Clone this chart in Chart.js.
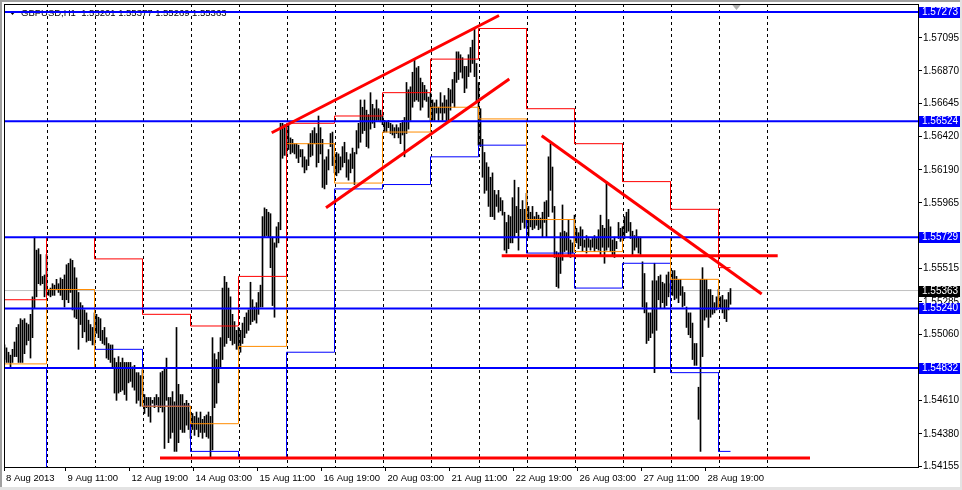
<!DOCTYPE html>
<html>
<head>
<meta charset="utf-8">
<script src="https://cdn.jsdelivr.net/npm/chart.js@4.4.0/dist/chart.umd.min.js"></script>
<style>
  html, body { margin: 0; padding: 0; background: #fff; }
  canvas { display: block; }
</style>
</head>
<body>
<canvas id="chart" width="962" height="490"></canvas>
<script>
const symbolName = 'GBPUSD,H1';
const lastQuote = [1.55201, 1.55377, 1.55269, 1.55363];

// H1 bars, one row per trading day (8 Aug .. 29 Aug 2013)
const barHigh = [
  1.5499,1.5497,1.5494,1.5492,1.5496,1.5501,1.5511,1.5513,1.5517,1.5516,1.5517,1.5514,1.5513,1.5520,1.5532,1.5573,1.5564,1.5565,1.5561,1.5546,1.5547,1.5561,
  1.5537,1.5538,1.5541,1.5540,1.5544,1.5541,1.5545,1.5544,1.5547,1.5554,1.5555,1.5558,1.5557,1.5552,1.5545,1.5535,1.5528,1.5526,1.5523,1.5521,1.5516,1.5513,1.5511,1.5521,
  1.5520,1.5518,1.5517,1.5509,1.5511,1.5504,1.5500,1.5499,1.5499,1.5490,1.5487,1.5491,1.5487,1.5490,1.5487,1.5487,1.5487,1.5487,1.5484,1.5485,1.5480,1.5480,1.5478,1.5482,
  1.5465,1.5463,1.5463,1.5463,1.5461,1.5463,1.5465,1.5463,1.5480,1.5481,1.5483,1.5490,1.5463,1.5463,1.5467,1.5460,1.5511,1.5472,1.5465,1.5465,1.5459,1.5461,1.5459,1.5453,
  1.5452,1.5450,1.5453,1.5449,1.5453,1.5448,1.5450,1.5451,1.5453,1.5450,1.5504,1.5493,1.5489,1.5494,1.5504,1.5538,1.5546,1.5542,1.5538,1.5532,1.5520,1.5515,1.5509,1.5511,
  1.5509,1.5514,1.5518,1.5521,1.5523,1.5542,1.5530,1.5525,1.5528,1.5535,1.5540,1.5587,1.5593,1.5592,1.5590,1.5589,1.5573,1.5569,1.5580,1.5583,1.5651,1.5651,1.5650,1.5648,
  1.5651,1.5641,1.5640,1.5637,1.5637,1.5636,1.5633,1.5633,1.5628,1.5626,1.5637,1.5644,1.5646,1.5648,1.5644,1.5656,1.5648,1.5640,1.5626,1.5628,1.5633,1.5644,1.5645,1.5628,
  1.5631,1.5630,1.5628,1.5635,1.5638,1.5631,1.5626,1.5630,1.5634,1.5631,1.5646,1.5651,1.5667,1.5662,1.5667,1.5660,1.5657,1.5672,1.5664,1.5661,1.5667,1.5661,1.5660,1.5657,
  1.5653,1.5652,1.5653,1.5651,1.5650,1.5648,1.5650,1.5648,1.5651,1.5653,1.5655,1.5679,1.5674,1.5676,1.5686,1.5695,1.5689,1.5690,1.5682,1.5679,1.5677,1.5674,1.5669,1.5672,
  1.5667,1.5665,1.5667,1.5662,1.5672,1.5665,1.5670,1.5667,1.5675,1.5674,1.5681,1.5686,1.5700,1.5700,1.5698,1.5696,1.5690,1.5690,1.5698,1.5703,1.5708,1.5716,1.5692,1.5679,
  1.5661,1.5640,1.5631,1.5624,1.5621,1.5614,1.5617,1.5605,1.5602,1.5605,1.5600,1.5598,1.5590,1.5583,1.5588,1.5587,1.5600,1.5612,1.5594,1.5607,1.5592,1.5598,1.5592,1.5603,
  1.5594,1.5590,1.5594,1.5587,1.5590,1.5588,1.5586,1.5590,1.5597,1.5598,1.5628,1.5637,1.5621,1.5594,1.5563,1.5562,1.5576,1.5595,1.5577,1.5576,1.5585,1.5571,1.5569,1.5588,
  1.5579,1.5576,1.5580,1.5578,1.5571,1.5574,1.5572,1.5571,1.5572,1.5574,1.5572,1.5578,1.5588,1.5581,1.5579,1.5611,1.5585,1.5580,1.5571,1.5573,1.5570,1.5583,1.5579,1.5580,
  1.5587,1.5590,1.5592,1.5583,1.5577,1.5574,1.5578,1.5573,1.5573,1.5556,1.5548,1.5528,1.5521,1.5521,1.5543,1.5555,1.5543,1.5546,1.5547,1.5542,1.5541,1.5547,1.5549,1.5541,
  1.5550,1.5550,1.5546,1.5544,1.5544,1.5539,1.5535,1.5525,1.5521,1.5521,1.5514,1.5500,1.5500,1.5470,1.5544,1.5552,1.5544,1.5544,1.5537,1.5537,1.5533,1.5528,1.5532,1.5537,
  1.5532,1.5533,1.5530,1.5530,1.5535,1.55377
];
const barLow = [
  1.5489,1.5487,1.5487,1.5484,1.5487,1.5491,1.5491,1.5487,1.5487,1.5487,1.5493,1.5499,1.5502,1.5490,1.5504,1.5524,1.5532,1.5541,1.5540,1.5541,1.5532,1.5537,
  1.5533,1.5532,1.5533,1.5533,1.5537,1.5535,1.5533,1.5530,1.5525,1.5530,1.5528,1.5535,1.5523,1.5518,1.5517,1.5496,1.5513,1.5504,1.5508,1.5501,1.5502,1.5502,1.5499,1.5499,
  1.5507,1.5504,1.5502,1.5500,1.5499,1.5490,1.5489,1.5487,1.5484,1.5466,1.5461,1.5466,1.5467,1.5468,1.5465,1.5461,1.5473,1.5474,1.5470,1.5468,1.5459,1.5461,1.5457,1.5465,
  1.5452,1.5456,1.5450,1.5446,1.5459,1.5456,1.5458,1.5453,1.5456,1.5453,1.5428,1.5461,1.5432,1.5435,1.5439,1.5426,1.5426,1.5432,1.5441,1.5439,1.5439,1.5444,1.5441,1.5435,
  1.5441,1.5437,1.5441,1.5436,1.5439,1.5435,1.5439,1.5436,1.5435,1.5421,1.5427,1.5456,1.5459,1.5473,1.5484,1.5489,1.5498,1.5500,1.5504,1.5502,1.5499,1.5500,1.5496,1.5496,
  1.5494,1.5500,1.5504,1.5507,1.5509,1.5513,1.5515,1.5516,1.5514,1.5520,1.5525,1.5525,1.5573,1.5574,1.5573,1.5552,1.5526,1.5518,1.5566,1.5569,1.5578,1.5627,1.5629,1.5629,
  1.5633,1.5630,1.5631,1.5630,1.5627,1.5624,1.5628,1.5621,1.5617,1.5619,1.5622,1.5628,1.5629,1.5637,1.5621,1.5624,1.5630,1.5607,1.5606,1.5609,1.5619,1.5635,1.5622,1.5617,
  1.5615,1.5617,1.5619,1.5621,1.5624,1.5614,1.5612,1.5617,1.5620,1.5609,1.5630,1.5634,1.5638,1.5644,1.5646,1.5635,1.5634,1.5647,1.5651,1.5648,1.5653,1.5653,1.5652,1.5650,
  1.5645,1.5645,1.5648,1.5644,1.5643,1.5641,1.5644,1.5641,1.5637,1.5643,1.5628,1.5644,1.5647,1.5653,1.5662,1.5666,1.5667,1.5666,1.5660,1.5662,1.5667,1.5666,1.5655,1.5653,
  1.5653,1.5653,1.5658,1.5653,1.5658,1.5653,1.5658,1.5653,1.5653,1.5660,1.5665,1.5662,1.5679,1.5681,1.5686,1.5682,1.5672,1.5675,1.5683,1.5686,1.5692,1.5683,1.5666,1.5636,
  1.5635,1.5614,1.5603,1.5605,1.5594,1.5587,1.5587,1.5585,1.5594,1.5590,1.5591,1.5588,1.5564,1.5562,1.5565,1.5569,1.5569,1.5573,1.5576,1.5564,1.5578,1.5583,1.5579,1.5580,
  1.5573,1.5580,1.5578,1.5579,1.5581,1.5578,1.5579,1.5573,1.5583,1.5573,1.5587,1.5605,1.5590,1.5559,1.5539,1.5538,1.5548,1.5557,1.5563,1.5564,1.5561,1.5559,1.5562,1.5569,
  1.5569,1.5565,1.5567,1.5563,1.5566,1.5562,1.5566,1.5564,1.5566,1.5563,1.5565,1.5564,1.5561,1.5566,1.5555,1.5564,1.5566,1.5563,1.5561,1.5559,1.5565,1.5572,1.5570,1.5571,
  1.5572,1.5576,1.5577,1.5572,1.5561,1.5564,1.5566,1.5562,1.5561,1.5525,1.5521,1.5500,1.5502,1.5504,1.5507,1.5480,1.5509,1.5530,1.5524,1.5528,1.5524,1.5526,1.5532,1.5535,
  1.5533,1.5530,1.5531,1.5528,1.5533,1.5525,1.5526,1.5511,1.5506,1.5504,1.5489,1.5485,1.5485,1.5448,1.5426,1.5491,1.5516,1.5518,1.5511,1.5518,1.5520,1.5521,1.5523,1.5525,
  1.5524,1.5521,1.5517,1.5515,1.5523,1.55269
];

// daily levels (step lines): first bar of each day and the level for that day
const dayStart = [0, 22, 46, 70, 94, 118, 142, 166, 190, 214, 238, 262, 286, 310, 334, 358];
const dayRed =    [1.5530, 1.55729, 1.5558, 1.5520, 1.5512, 1.5546, 1.5651, 1.5656, 1.5672, 1.5695, 1.5716, 1.5661, 1.5637, 1.5611, 1.5592, 1.5552];
const dayOrange = [1.5486, 1.5537, 1.54832, 1.5457, 1.5445, 1.5498, 1.5637, 1.5610, 1.5645, 1.5662, 1.5654, 1.5585, 1.5563, 1.55729, 1.5544, 1.5524];
const dayBlue =   [1.5400, 1.54832, 1.5496, 1.5457, 1.5426, 1.5421, 1.5494, 1.5606, 1.5609, 1.5628, 1.5636, 1.5562, 1.5538, 1.5555, 1.5480, 1.5426];

// horizontal levels and trend lines ([bar, price] pairs)
const levels = [1.57273, 1.56524, 1.55729, 1.55240, 1.54832];
const currentPrice = 1.55363;
const channelTop = [[133.6, 1.56445], [247.25, 1.57249]];
const channelBottom = [[160.75, 1.55931], [252.4, 1.56813]];
const downTrend = [[268.6, 1.56425], [378.6, 1.55339]];
const supportMid = [[248.6, 1.55602], [386.6, 1.55602]];
const supportLow = [[77.75, 1.54214], [402.75, 1.54214]];

// axes
const priceTicks = [1.57095, 1.56870, 1.56645, 1.56420, 1.56190, 1.55965, 1.55515, 1.55285, 1.55060, 1.54610, 1.54380, 1.54155];
const timeLabels = ['8 Aug 2013', '9 Aug 11:00', '12 Aug 19:00', '14 Aug 03:00', '15 Aug 11:00', '16 Aug 19:00',
  '20 Aug 03:00', '21 Aug 11:00', '22 Aug 19:00', '26 Aug 03:00', '27 Aug 11:00', '28 Aug 19:00'];
const timeLabelBars = [0, 31, 63, 95, 127, 159, 191, 223, 255, 287, 319, 351];
const separatorBars = [22, 46, 70, 94, 118, 142, 166, 190, 214, 238, 262, 286, 310, 334, 358, 382];
const shiftBar = 366;

const X_MIN = -0.25, X_MAX = 456.75;
const Y_MIN = 1.54153, Y_MAX = 1.57328;
const FONT = "'Liberation Sans', Arial, sans-serif";

Chart.defaults.font.family = FONT;
Chart.defaults.font.size = 10;
Chart.defaults.color = '#000';

function stepPoints(vals) {
  const pts = [];
  dayStart.forEach((s, d) => {
    const a = d === 0 ? X_MIN : s - 1;
    const b = d + 1 < dayStart.length ? dayStart[d + 1] - 1 : barHigh.length - 1;
    pts.push({ x: a, y: vals[d] }, { x: b, y: vals[d] });
  });
  return pts;
}

function lineSet(pts, color, width, order) {
  return {
    type: 'line', data: pts.map(p => ({ x: p[0], y: p[1] })),
    borderColor: color, borderWidth: width, pointRadius: 0, fill: false, tension: 0, order: order
  };
}

const datasets = [];
[channelTop, channelBottom, downTrend, supportMid, supportLow].forEach(t => datasets.push(lineSet(t, '#ff0000', 3, 0)));
levels.forEach(v => datasets.push(lineSet([[X_MIN, v], [X_MAX, v]], '#0000ff', 2, 1)));
datasets.push({ type: 'line', data: stepPoints(dayRed), borderColor: '#ff0000', borderWidth: 1, pointRadius: 0, tension: 0, order: 2 });
datasets.push({ type: 'line', data: stepPoints(dayOrange), borderColor: '#ff8c00', borderWidth: 1, pointRadius: 0, tension: 0, order: 2 });
datasets.push({ type: 'line', data: stepPoints(dayBlue), borderColor: '#0000ff', borderWidth: 1, pointRadius: 0, tension: 0, order: 2 });
datasets.push({
  type: 'bar', data: barHigh.map((h, i) => ({ x: i, y: [barLow[i], h] })),
  backgroundColor: '#000', borderWidth: 0, barThickness: 1, order: 3
});
datasets.push(lineSet([[X_MIN, currentPrice], [X_MAX, currentPrice]], '#c0c0c0', 1, 4));

const mtFrame = {
  id: 'mtFrame',
  beforeDraw(chart) {
    const c = chart.ctx;
    c.save();
    c.fillStyle = '#fff';
    c.fillRect(0, 0, chart.width, chart.height);
    c.fillStyle = '#a0a0a0';
    c.fillRect(0, 0, chart.width, 2);
    c.fillRect(0, 0, 2, chart.height);
    c.fillStyle = '#e3e3e3';
    c.fillRect(0, chart.height - 3, chart.width, 3);
    c.fillRect(chart.width - 2, 0, 2, chart.height);
    c.restore();
  },
  beforeDatasetsDraw(chart) {
    const c = chart.ctx;
    const xs = chart.scales.x;
    c.save();
    c.fillStyle = '#000';
    c.beginPath();
    c.moveTo(9, 11); c.lineTo(16, 11); c.lineTo(12.5, 15); c.closePath();
    c.fill();
    c.font = '9.5px ' + FONT;
    c.textBaseline = 'alphabetic';
    c.fillText(symbolName + '  ' + lastQuote.map(v => v.toFixed(5)).join(' '), 21, 16);
    const sx = xs.getPixelForValue(shiftBar);
    c.fillStyle = '#b0b0b0';
    c.beginPath();
    c.moveTo(sx - 5, 4); c.lineTo(sx + 5, 4); c.lineTo(sx, 10); c.closePath();
    c.fill();
    c.restore();
  },
  afterDraw(chart) {
    const c = chart.ctx;
    const a = chart.chartArea;
    const ys = chart.scales.y;
    c.save();
    c.strokeStyle = '#000';
    c.lineWidth = 1;
    c.strokeRect(a.left + 0.5, a.top + 0.5, a.right - a.left, a.bottom - a.top);
    c.font = '10px ' + FONT;
    c.textBaseline = 'middle';
    const box = (v, bg) => {
      const y = Math.round(ys.getPixelForValue(v));
      c.fillStyle = bg;
      c.fillRect(a.right + 1, y - 5, 41, 11);
      c.fillStyle = '#fff';
      c.fillText(v.toFixed(5), a.right + 4, y + 0.5);
    };
    levels.forEach(v => box(v, '#0000ff'));
    box(currentPrice, '#000');
    c.restore();
  }
};

new Chart(document.getElementById('chart'), {
  type: 'bar',
  data: { datasets },
  options: {
    responsive: false,
    animation: false,
    devicePixelRatio: 1,
    layout: { padding: { left: 4, top: 4, right: 0, bottom: 0 } },
    plugins: { legend: { display: false }, tooltip: { enabled: false } },
    scales: {
      x: {
        type: 'linear', min: X_MIN, max: X_MAX, offset: false,
        afterBuildTicks: s => {
          s.ticks = separatorBars.map(b => ({ value: b - 0.5, sep: true }))
            .concat(timeLabelBars.map((b, i) => ({ value: Math.max(X_MIN, b - 0.5), txt: timeLabels[i] })));
        },
        afterFit: s => { s.height = 23; s.paddingLeft = 0; s.paddingRight = 0; },
        grid: {
          offset: false, drawOnChartArea: true, drawTicks: true, tickLength: 4,
          color: ctx => (ctx.tick && ctx.tick.sep ? '#000' : 'rgba(0,0,0,0)'),
          tickColor: ctx => (ctx.tick && ctx.tick.sep ? 'rgba(0,0,0,0)' : '#000')
        },
        border: { display: false, dash: [3, 3] },
        ticks: {
          autoSkip: false, maxRotation: 0, minRotation: 0, align: 'start', labelOffset: 2, padding: 2,
          font: { size: 9.5 },
          callback: (v, i, t) => t[i].txt || ''
        }
      },
      y: {
        type: 'linear', position: 'right', min: Y_MIN, max: Y_MAX,
        afterBuildTicks: s => { s.ticks = priceTicks.map(v => ({ value: v })); },
        afterFit: s => { s.width = 44; s.paddingTop = 0; s.paddingBottom = 0; },
        grid: { drawOnChartArea: false, drawTicks: true, tickLength: 4, color: '#000', tickColor: '#000' },
        border: { display: false },
        ticks: { autoSkip: false, padding: 1, font: { size: 10 }, callback: v => v.toFixed(5) }
      }
    }
  },
  plugins: [mtFrame]
});
</script>
</body>
</html>
